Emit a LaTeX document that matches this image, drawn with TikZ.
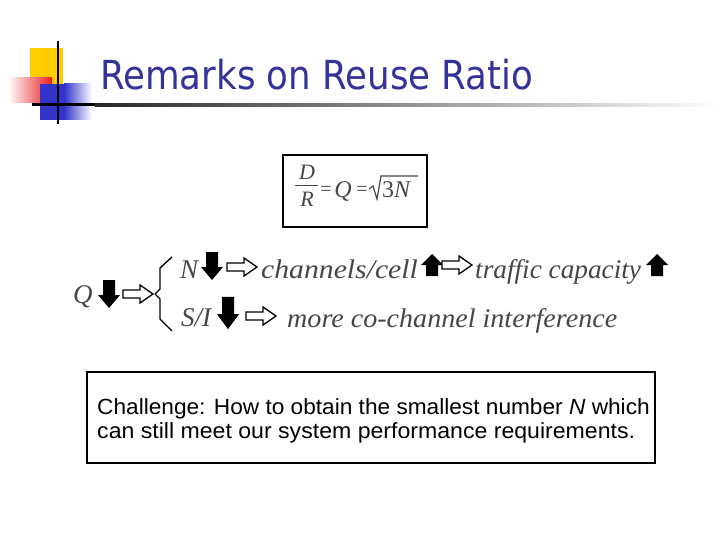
\documentclass[tikz,border=0pt]{standalone}
\usepackage{fontspec}
\setmainfont{Liberation Serif}
\newfontfamily\titlefont{DejaVu Sans}
\newfontfamily\boxfont{Liberation Sans}
\definecolor{titleblue}{RGB}{51,51,153}
\definecolor{logoyellow}{RGB}{255,204,0}
\definecolor{logored}{RGB}{235,30,30}
\definecolor{logoblue}{RGB}{51,51,204}
\definecolor{txtgray}{RGB}{70,70,70}
\tikzset{
  pics/bdown/.style={code={\fill[black] (-6,-14)--(6,-14)--(6,1)--(11,1)--(0,14)--(-11,1)--(-6,1)--cycle;}},
  pics/bup/.style={code={\fill[black] (-6,11)--(6,11)--(6,0)--(11,0)--(0,-11)--(-11,0)--(-6,0)--cycle;}},
  pics/wright/.style={code={\draw[black,fill=white,line width=1.3pt,line join=miter] (-15,-4)--(2,-4)--(2,-9)--(15,0)--(2,9)--(2,4)--(-15,4)--cycle;}},
  itxt/.style={anchor=base west,inner sep=0pt,text=txtgray,font=\fontsize{27}{27}\selectfont\itshape},
  eqtxt/.style={anchor=base,inner sep=0pt,text=txtgray},
  boxtxt/.style={anchor=base west,inner sep=0pt,font=\boxfont\fontsize{22}{22}\selectfont},
}
\begin{document}
\begin{tikzpicture}[x=1pt,y=-1pt]
\useasboundingbox (0,0) rectangle (720,540);
% logo
\fill[logoyellow] (30,48) rectangle (63,100);
\shade[left color=logored!5, right color=logored] (10,78) rectangle (52,103);
\fill[logoblue] (40,84) rectangle (64,120);
\shade[left color=logoblue, right color=white] (64,84) rectangle (92,120);
\draw[black,line width=2.5pt] (58,41) -- (58,124);
\fill[black] (32,103.5) rectangle (95,106.5);
\shade[left color=black!85, right color=white] (95,103.5) rectangle (720,106.5);
% title
\node[anchor=base west,inner sep=0pt,text=titleblue] (title) at (100,90) {\titlefont\fontsize{40}{40}\selectfont\scalebox{0.89}[1]{Remarks on Reuse Ratio}};
% equation box
\draw[line width=1.2pt] (283,155) rectangle (427,227);
\node[eqtxt,font=\fontsize{22}{22}\selectfont\itshape] (D) at (307,180) {D};
\draw[txtgray,line width=1pt] (295,186) -- (318,186);
\node[eqtxt,font=\fontsize{22}{22}\selectfont\itshape] (R) at (307,207) {R};
\node[eqtxt,font=\fontsize{20}{20}\selectfont] (eq1) at (326,196) {=};
\node[eqtxt,font=\fontsize{24}{24}\selectfont\itshape] (Q2) at (343,197) {Q};
\node[eqtxt,font=\fontsize{20}{20}\selectfont] (eq2) at (362,196) {=};
\draw[txtgray,line width=1.2pt,line join=miter] (369,189) -- (373,186) -- (377,199) -- (381,176) -- (418,176);
\node[anchor=base west,inner sep=0pt,text=txtgray,font=\fontsize{24}{24}\selectfont] (r3n) at (382,197) {3\textit{N}};
% Q row
\node[itxt] (Q) at (73,303) {Q};
\pic at (109,294) {bdown};
\pic at (138,294) {wright};
\draw[line width=1.4pt,line join=round] (172,257) -- (160,268) -- (160,289) -- (155,294) -- (160,299) -- (160,319) -- (172,331);
% row 1
\node[itxt] (N) at (180,278) {N};
\pic at (212,266) {bdown};
\pic at (242,267) {wright};
\node[itxt] (ch) at (261,278) {\scalebox{1.1}[1]{channels/cell}};
\pic at (432,265) {bup};
\pic at (457,265) {wright};
\node[itxt] (tc) at (475,278) {\scalebox{1.01}[1]{traffic capacity}};
\pic at (657,265) {bup};
% row 2
\node[itxt] (SI) at (181,326) {S/I};
\pic[yscale=1.15] at (228,313) {bdown};
\pic at (261,316) {wright};
\node[itxt] (more) at (287,327) {\scalebox{1.04}[1]{more co-channel interference}};
% challenge box
\draw[line width=1.2pt] (87,372) rectangle (655,463);
\node[boxtxt] (ch1) at (97,414) {\scalebox{1.03}[1]{Challenge: How to obtain the smallest number \textit{N} which}};
\node[boxtxt] (ch2) at (97,438) {\scalebox{1.05}[1]{can still meet our system performance requirements.}};
\end{tikzpicture}
\end{document}
